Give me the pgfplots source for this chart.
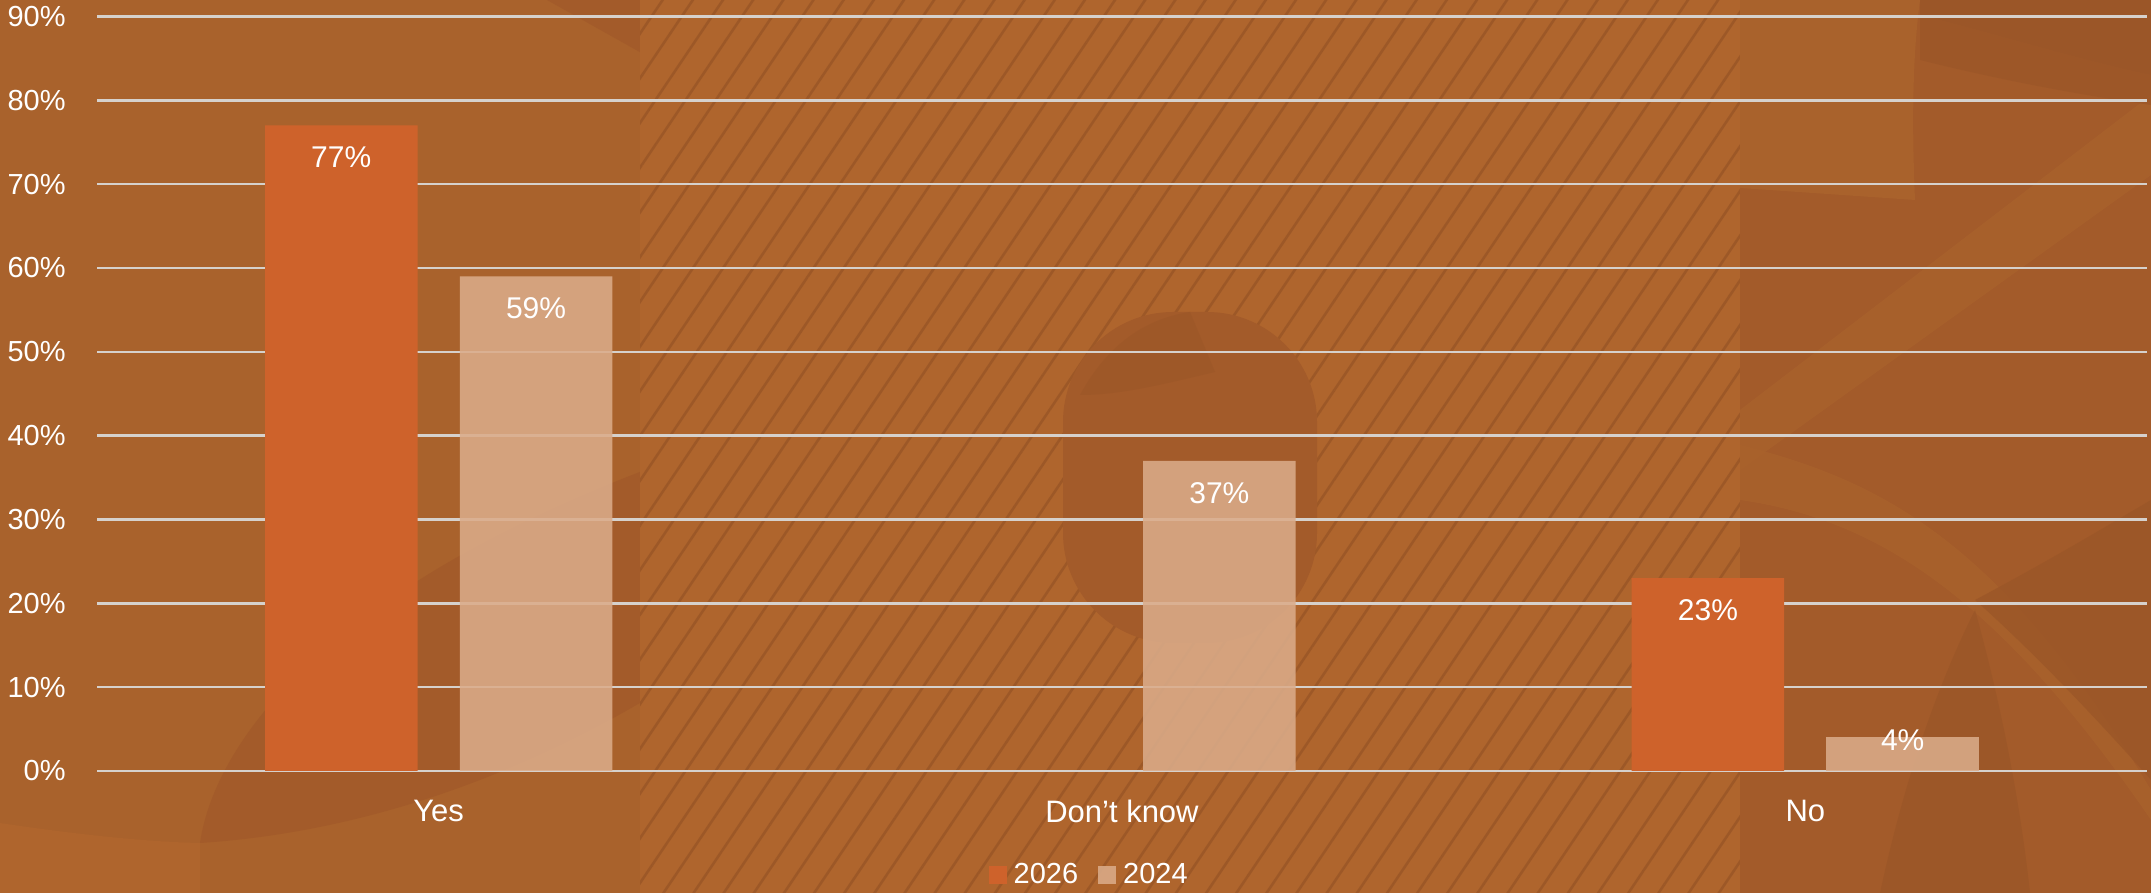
\documentclass[border=0pt]{standalone}
\usepackage{pgfplots}
\pgfplotsset{compat=1.18}
\usepackage{fontspec}
\setmainfont{Liberation Sans}
\usetikzlibrary{patterns.meta}
\definecolor{bgbase}{HTML}{A9622C}
\definecolor{bglight}{HTML}{AF652D}
\definecolor{bgdark}{HTML}{A35B2A}
\definecolor{bgdarker}{HTML}{9B5628}
\definecolor{hatchc}{HTML}{8C4D23}
\definecolor{c26}{HTML}{CE622B}
\definecolor{c24}{HTML}{DBAC8A}
\definecolor{gridc}{HTML}{D6D1CC}
\newcommand\fa{\fontsize{14.5pt}{16pt}\selectfont}
\newcommand\fb{\fontsize{15pt}{17pt}\selectfont}
\newcommand\fc{\fontsize{15.5pt}{17pt}\selectfont}
\begin{document}
\begin{tikzpicture}
\useasboundingbox (0,0) rectangle (1075.5pt,446.5pt);
\begin{scope}[x=0.5pt,y=-0.5pt,yshift=446.5pt]
  % base
  \fill[bgbase] (0,0) rectangle (2151,893);
  % bottom-left lighter corner
  \fill[bglight] (0,823) .. controls (80,835) and (150,842) .. (200,843) -- (200,893) -- (0,893) -- cycle;
  % darker lens left
  \fill[bgdark] (200,843) .. controls (215,740) and (330,590) .. (645,470) -- (645,700) .. controls (560,750) and (400,830) .. (200,843) -- cycle;
  % top-left dark wedge
  \fill[bgdark] (547,0) -- (645,0) -- (645,55) -- cycle;
  % hatched band
  \fill[bglight] (640,0) rectangle (1740,893);
  \fill[pattern={Lines[angle=56,distance=12.5pt,line width=1.3pt]}, pattern color=hatchc, opacity=0.5] (640,0) rectangle (1740,893);
  % rounded shape in middle
  \fill[bgdark, rounded corners=55pt] (1063,312) rectangle (1317,643);
  \fill[bgdarker, opacity=0.6] (1080,395) .. controls (1110,340) and (1150,318) .. (1190,312) -- (1215,372) .. controls (1160,385) and (1120,395) .. (1080,395) -- cycle;
  % right region
  \fill[bgdark] (1740,0) rectangle (2151,893);
  \fill[bgbase] (1740,0) -- (1920,0) .. controls (1912,60) and (1912,130) .. (1915,200) -- (1740,188) -- cycle;
  \fill[bgbase, opacity=0.8] (1740,410) -- (2151,95) -- (2151,175) -- (1740,470) -- cycle;
  \fill[bgbase, opacity=0.8] (1740,445) .. controls (1880,480) and (2000,540) .. (2151,790) -- (2151,820) .. controls (2000,600) and (1880,520) .. (1740,500) -- cycle;
  \fill[bgdarker] (1920,15) .. controls (2000,35) and (2080,60) .. (2151,75) -- (2151,0) -- (1920,0) -- cycle;
  \fill[bgdarker, opacity=0.7] (1920,60) .. controls (2000,80) and (2080,95) .. (2151,105) -- (2151,75) .. controls (2080,60) and (2000,35) .. (1920,15) -- cycle;
  \fill[bgdarker, opacity=0.8] (1975,600) .. controls (2050,560) and (2100,530) .. (2151,500) -- (2151,780) .. controls (2080,700) and (2020,640) .. (1975,600) -- cycle;
  \fill[bgdarker, opacity=0.8] (1880,893) .. controls (1900,800) and (1930,700) .. (1975,610) .. controls (2000,700) and (2020,800) .. (2030,893) -- cycle;
\end{scope}
\begin{axis}[
  at={(48.5pt,61pt)}, anchor=south west,
  scale only axis, width=1025pt, height=377.25pt,
  xmin=-0.5, xmax=2.5, ymin=0, ymax=90,
  enlargelimits=false, clip=false,
  ybar,
  axis line style={draw=none},
  major tick length=0pt,
  ymajorgrids, grid style={color=gridc, line width=1.2pt},
  ytick={0,10,20,30,40,50,60,70,80,90},
  yticklabels={0\%,10\%,20\%,30\%,40\%,50\%,60\%,70\%,80\%,90\%},
  yticklabel style={font=\fa, text=white, anchor=east, inner sep=0pt, xshift=-15.5pt},
  xtick={0,1,2},
  xticklabels={Yes,Don’t know,No},
  xticklabel style={font=\fc, text=white, anchor=center, inner sep=0pt, yshift=-20pt},
  bar width=76.25pt,
  point meta=explicit symbolic,
  nodes near coords,
  nodes near coords style={font=\fb, text=white, text opacity=1, anchor=center, yshift=-16pt},
  legend columns=2,
  legend image code/.code={\fill[#1] (0pt,-4.5pt) rectangle (9pt,4.5pt);},
  legend style={at={(axis description cs:0.4845,-0.1378)}, anchor=center, draw=none, fill=none, font=\fa, text=white,
    column sep=1.5pt,
    /tikz/every even column/.append style={column sep=8pt}},
]
\addplot[fill=c26, draw=none, bar shift=-48.7pt] coordinates {(0,77) [77\%] (2,23) [23\%]};
\addlegendentry{2026}
\addplot[fill=c24, fill opacity=0.87, draw=none, bar shift=48.7pt] coordinates {(0,59) [59\%] (1,37) [37\%]};
\addlegendentry{2024}
\addplot[fill=c24, fill opacity=0.87, draw=none, bar shift=48.7pt, forget plot,
  nodes near coords style={yshift=14.5pt}] coordinates {(2,4) [4\%]};
\end{axis}
\end{tikzpicture}
\end{document}
